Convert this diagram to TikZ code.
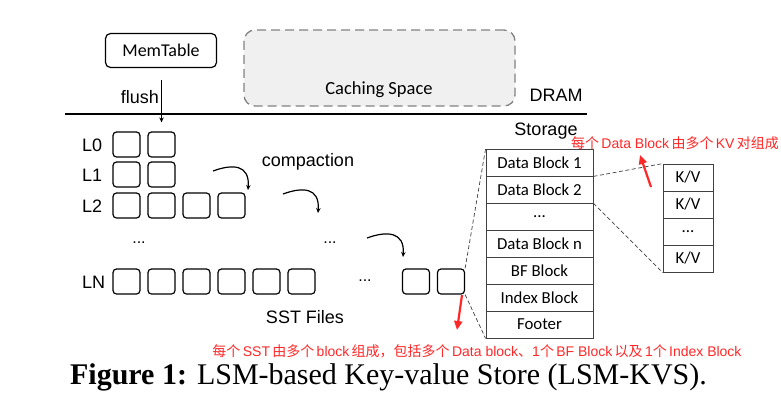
\documentclass[tikz,border=0pt]{standalone}
\usepackage{fontspec}
\newfontfamily\carl{Carlito}
\newfontfamily\ari{Liberation Sans}
\newfontfamily\cjk{Noto Sans CJK SC}
\newfontfamily\tms{Liberation Serif}
\usetikzlibrary{arrows.meta}
\definecolor{redmark}{RGB}{255,40,40}
\definecolor{cachefill}{RGB}{240,240,240}
\definecolor{cacheline}{RGB}{130,130,130}
\newcommand{\lat}[1]{{\ari #1}}
\begin{document}
\begin{tikzpicture}[x=1pt,y=-1pt,
  sstbox/.style={draw, line width=1.2pt, rounded corners=3.5pt, minimum width=27pt, minimum height=25pt, inner sep=0pt},
  cell/.style={draw=black!75, line width=0.8pt, minimum width=107pt, minimum height=27pt, inner sep=0pt, font=\carl\fontsize{16.8}{18}\selectfont},
  kvcell/.style={cell, minimum width=50pt},
  lbl/.style={inner sep=0pt, font=\ari\fontsize{18}{20}\selectfont},
  dotlbl/.style={inner sep=0pt, font=\ari\fontsize{16}{18}\selectfont},
  redtxt/.style={inner sep=0pt, text=redmark, font=\cjk\fontsize{14}{16}\selectfont},
  comparrow/.style={line width=1.2pt, -{Stealth[length=5pt,width=4.5pt]}},
  redarrow/.style={draw=redmark, line width=2.2pt, -{Triangle[length=9pt,width=8pt]}},
  zoomline/.style={dashed, line width=0.7pt, black!75, dash pattern=on 4pt off 2.5pt}
]
\useasboundingbox (0,0) rectangle (781,402);

% DRAM part
\node[draw, line width=1.2pt, rounded corners=5pt, minimum width=111pt, minimum height=34pt, inner sep=0pt,
      font=\carl\fontsize{18}{20}\selectfont] (mem) at (161,50.5) {MemTable};
\node[draw=cacheline, fill=cachefill, dashed, dash pattern=on 9pt off 5pt, line width=1.3pt, rounded corners=11pt,
      minimum width=271pt, minimum height=76pt, inner sep=0pt] (cache) at (379.5,68) {};
\node[inner sep=0pt, font=\carl\fontsize{18.5}{20}\selectfont] (cachetxt) at (379,90) {Caching Space};
\node[lbl] (flush) at (140,97) {flush};
\node[lbl] (dram) at (556,95) {DRAM};
\coordinate (sepL) at (65,114);
\coordinate (sepR) at (587,114);
\draw[line width=1.3pt] (sepL) -- (sepR);
\node[lbl] (storage) at (546,131) {Storage};

% Levels
\node[lbl, anchor=west] (L0) at (82,145) {L0};
\node[lbl, anchor=west] (L1) at (82,175.5) {L1};
\node[lbl, anchor=west] (L2) at (82,206) {L2};
\node[lbl, anchor=west] (LN) at (82,282) {LN};

\node[sstbox] (l0a) at (126.5,144.5) {};
\node[sstbox] (l0b) at (161.5,144.5) {};
\node[sstbox] (l1a) at (126.5,174.5) {};
\node[sstbox] (l1b) at (161.5,174.5) {};
\node[sstbox] (l2a) at (126.5,205.5) {};
\node[sstbox] (l2b) at (161.5,205.5) {};
\node[sstbox] (l2c) at (196.5,205.5) {};
\node[sstbox] (l2d) at (231.5,205.5) {};
\node[sstbox] (lna) at (126.5,281.5) {};
\node[sstbox] (lnb) at (161.5,281.5) {};
\node[sstbox] (lnc) at (196.5,281.5) {};
\node[sstbox] (lnd) at (231.5,281.5) {};
\node[sstbox] (lne) at (266.5,281.5) {};
\node[sstbox] (lnf) at (301.5,281.5) {};
\node[sstbox] (lny) at (416,281.5) {};
\node[sstbox] (lnz) at (451,281.5) {};

\node[dotlbl] (dots1) at (139,243) {...};
\node[dotlbl] (dots2) at (330,243) {...};
\node[dotlbl] (dots3) at (365,281) {...};

% flush arrow
\coordinate (flushstart) at (161.5,80);
\draw[line width=1.2pt, -{Stealth[length=5pt,width=4.5pt]}, shorten >=9pt] (flushstart) -- (l0b.north);

% compaction
\node[lbl] (comp) at (308,162) {compaction};
\coordinate (c1s) at (213,171);
\coordinate (c1e) at (248,190);
\coordinate (c2s) at (283,194);
\coordinate (c2e) at (318,213);
\coordinate (c3s) at (367,238);
\coordinate (c3e) at (403,257);
\draw[comparrow] (c1s) .. controls (232,164) and (250,164) .. (c1e);
\draw[comparrow] (c2s) .. controls (302,187) and (320,187) .. (c2e);
\draw[comparrow] (c3s) .. controls (386,231) and (405,231) .. (c3e);

\node[lbl] (sstfiles) at (305,317) {SST Files};

% SST structure
\node[cell] (b1) at (539.5,162.5) {Data Block 1};
\node[cell] (b2) at (539.5,189.5) {Data Block 2};
\node[cell] (b3) at (539.5,216.5) {...};
\node[cell] (b4) at (539.5,243.5) {Data Block n};
\node[cell] (b5) at (539.5,270.5) {BF Block};
\node[cell] (b6) at (539.5,297.5) {Index Block};
\node[cell] (b7) at (539.5,324.5) {Footer};

\node[kvcell] (kv1) at (688,177.5) {K/V};
\node[kvcell] (kv2) at (688,204.5) {K/V};
\node[kvcell] (kv3) at (688,231.5) {...};
\node[kvcell] (kv4) at (688,258.5) {K/V};

\draw[zoomline] (lnz.north east) -- (b1.north west);
\draw[zoomline] (lnz.south east) -- (b7.south west);
\draw[zoomline] (b1.south east) -- (kv1.north west);
\draw[zoomline] (b2.south east) -- (kv4.south west);

% red annotations
\node[redtxt] (note1) at (675,143) {每个\,\lat{Data Block}\,由多个\,\lat{KV}\,对组成};
\coordinate (r1s) at (651,187);
\coordinate (r1e) at (640,155);
\draw[redarrow] (r1s) -- (r1e);
\coordinate (r2s) at (462,295);
\coordinate (r2e) at (457,330);
\draw[redarrow] (r2s) -- (r2e);
\node[redtxt] (note2) at (477,351.5) {每个\,\lat{SST}\,由多个\,\lat{block}\,组成，包括多个\,\lat{Data block}、\lat{1}个\,\lat{BF Block}\,以及\,\lat{1}个\,\lat{Index Block}};

% caption
\node[inner sep=0pt, anchor=base, font=\tms\fontsize{30}{32}\selectfont] (cap) at (388.5,384) {\textbf{Figure 1:} LSM-based Key-value Store (LSM-KVS).};
\end{tikzpicture}
\end{document}
